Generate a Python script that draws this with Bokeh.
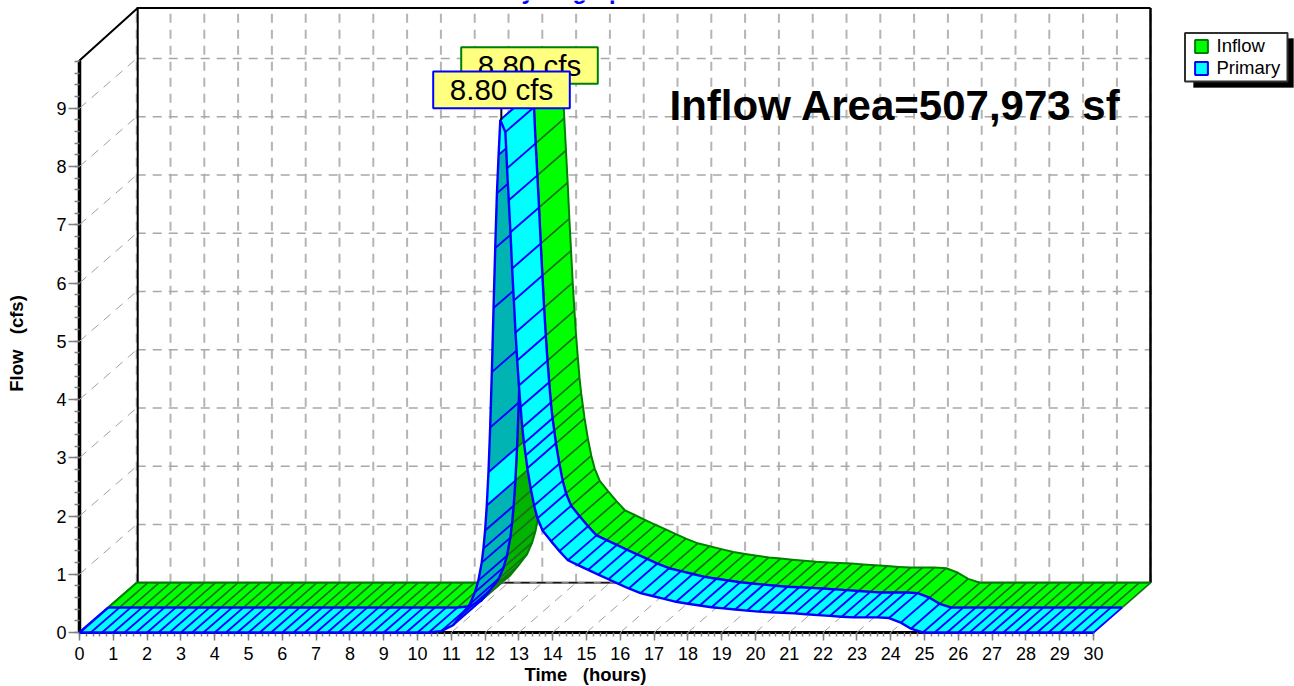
import numpy as np
from bokeh.embed import file_html
from bokeh.resources import INLINE
from bokeh.plotting import figure
from bokeh.core.properties import value
from bokeh.models import (BoxAnnotation, Label, Legend, LegendItem, LinearAxis, Range1d,
                          SingleIntervalTicker)

time_h = [0, 10.5, 10.75, 11, 11.3, 11.5, 11.6, 11.7, 11.75, 11.8, 11.85, 11.9, 11.95, 12, 12.05,
          12.1, 12.15, 12.2, 12.25, 12.3, 12.35, 12.4, 12.45, 12.6, 12.65, 12.7, 12.75, 12.8,
          12.85, 12.9, 12.95, 13, 13.05, 13.1, 13.15, 13.2, 13.25, 13.3, 13.35, 13.4, 13.45,
          13.5, 13.55, 13.7, 14.1, 14.45, 15.4, 16.5, 17.7, 18.75, 20.05, 21.1, 22.8, 23.9,
          24.3, 24.7, 24.85, 30]
inflow_cfs = [0, 0, 0.03, 0.09, 0.3, 0.43, 0.55, 0.69, 0.78, 0.89, 1.01, 1.2, 1.44, 1.75, 2.18,
              2.75, 3.52, 4.47, 5.57, 6.6, 7.54, 8.2, 8.8, 8.59, 7.97, 7.42, 6.87, 6.25,
              5.7, 5.15, 4.67, 4.24, 3.87, 3.52, 3.25, 3.04, 2.82, 2.65, 2.47, 2.32, 2.18,
              2.06, 1.96, 1.75, 1.46, 1.24, 0.98, 0.69, 0.52, 0.43, 0.36, 0.33, 0.26, 0.26,
              0.17, 0.03, 0, 0]
primary_cfs = list(inflow_cfs)
series_names = ["Inflow", "Primary"]
peak_labels = ["8.80 cfs", "8.80 cfs"]
x_tick_interval = 1
y_tick_interval = 1
lit_rising_spans = [(12.05, 12.10), (12.40, 12.45)]

W, H = 1294, 686
PX_T, PX_F = 33.8, 58.25
LEFT, BOTTOM = 79, 632
DEPTH_T, DEPTH_F = 28.6 / PX_T, 24.9 / PX_F
BACK_T, BACK_F = 2 * DEPTH_T, 2 * DEPTH_F


def tx(px):
    return (px - LEFT) / PX_T


def ty(py):
    return (BOTTOM - py) / PX_F


x_end = tx(1150)
y_top = ty(7.5)

FONT = "Liberation Sans"
p = figure(width=W, height=H, output_backend="svg", toolbar_location=None, tools="",
           x_range=Range1d(tx(0), tx(W)), y_range=Range1d(ty(H), ty(0)),
           x_axis_location=None, y_axis_location=None,
           min_border_left=0, min_border_right=0, min_border_top=0, min_border_bottom=0,
           outline_line_color=None, background_fill_color="white")
p.grid.visible = False

xa = LinearAxis(fixed_location=0, bounds=(0, 30), level="underlay",
                ticker=SingleIntervalTicker(interval=x_tick_interval, num_minor_ticks=5))
ya = LinearAxis(fixed_location=0, bounds=(0, 9.82), level="underlay",
                ticker=SingleIntervalTicker(interval=y_tick_interval, num_minor_ticks=5))
for a in (xa, ya):
    a.axis_line_color = "black"
    a.major_tick_line_color = "#808080"
    a.minor_tick_line_color = "#808080"
    a.major_tick_line_width = 1.5
    a.minor_tick_line_width = 1.5
    a.major_tick_in = 0
    a.minor_tick_in = 0
    a.major_label_text_font = FONT
    a.major_label_text_font_size = "18px"
    a.major_label_text_color = "black"
xa.axis_line_width = 3
ya.axis_line_width = 3.5
xa.major_tick_out, xa.minor_tick_out = 8, 4
ya.major_tick_out, ya.minor_tick_out = 11, 5
xa.major_label_standoff = 6
ya.major_label_standoff = 2
p.add_layout(xa, "below")
p.add_layout(ya, "left")

# walls and floor grid
hours = np.arange(0, 31)
levels = np.arange(1, 10)
p.multi_line([[t + BACK_T] * 2 for t in hours], [[BACK_F, y_top] for _ in hours],
             line_color="#b4b4b4", line_width=2, line_dash="9 7")
p.multi_line([[BACK_T, x_end] for _ in levels], [[k + BACK_F] * 2 for k in levels],
             line_color="#a8a8a8", line_width=1.6, line_dash="9 7")
p.multi_line([[t, t + BACK_T] for t in hours[1:]], [[0, BACK_F] for _ in hours[1:]],
             line_color="#a0a0a0", line_width=1, line_dash="9 7")
p.multi_line([[0, BACK_T] for _ in levels], [[k, k + BACK_F] for k in levels],
             line_color="#a0a0a0", line_width=1, line_dash="9 7")
p.line([BACK_T, x_end], [BACK_F, BACK_F], line_color="#808080", line_width=2.5)
p.line([BACK_T, x_end], [BACK_F, BACK_F], line_color="black", line_width=1, line_dash="9 7")
p.line([0, BACK_T + 0.03, BACK_T + 0.03], [9.82, y_top, BACK_F], line_color="black", line_width=2)
p.line([BACK_T, x_end], [y_top, y_top], line_color="black", line_width=2)
p.line([x_end, x_end], [BACK_F, y_top], line_color="black", line_width=2.5)


def hatch_times(ts, fs):
    a, b = ts[1], ts[-2] + 0.65
    cands = set(np.round(np.arange(0, a, 1 / 3), 4)) | set(np.round(np.arange(a, b, 0.05), 4))
    cands |= set(np.round(np.arange(30, b, -1 / 3), 4))
    cands = sorted(cands)
    peak = ts[int(np.argmax(fs))]
    keep = [cands[0]]
    for t in cands[1:]:
        dx = (t - keep[-1]) * PX_T
        dy = (np.interp(t, ts, fs) - np.interp(keep[-1], ts, fs)) * PX_F
        if np.hypot(dx, dy) >= 11 or t == peak or t == 30:
            keep.append(t)
    return np.array(keep), peak


def ribbon(ts, fs, d0, lit, dark, edge, hatch, edge_w, hatch_w):
    t, peak = hatch_times(ts, fs)
    f = np.interp(t, ts, fs)
    x0, y0 = t + d0 * DEPTH_T, f + d0 * DEPTH_F
    x1, y1 = x0 + DEPTH_T, y0 + DEPTH_F
    quads = {"rl": ([], []), "rd": ([], []), "f": ([], [])}
    ipk = int(np.where(t == peak)[0][0])
    for i in range(len(t) - 1):
        qx = [x0[i], x0[i + 1], x1[i + 1], x1[i]]
        qy = [y0[i], y0[i + 1], y1[i + 1], y1[i]]
        slope = (f[i + 1] - f[i]) * PX_F / ((t[i + 1] - t[i]) * PX_T)
        mid = (t[i] + t[i + 1]) / 2
        is_lit = any(a < mid < b for a, b in lit_rising_spans)
        if i >= ipk:
            key = "f"
        elif slope > 24.9 / 28.6 and not is_lit:
            key = "rd"
        else:
            key = "rl"
        quads[key][0].append(qx)
        quads[key][1].append(qy)
    p.patches(quads["rl"][0], quads["rl"][1], fill_color=lit, line_color=lit, line_width=0.5)
    p.patches(quads["rd"][0], quads["rd"][1], fill_color=dark, line_color=dark, line_width=0.5)
    idx = range(ipk + 1)
    p.multi_line([[x0[i], x1[i]] for i in idx], [[y0[i], y1[i]] for i in idx],
                 line_color=hatch, line_width=hatch_w)
    p.multi_line([list(x0[:ipk + 1]), list(x1[:ipk + 1])], [list(y0[:ipk + 1]), list(y1[:ipk + 1])],
                 line_color=edge, line_width=edge_w, line_join="round")
    p.patches(quads["f"][0], quads["f"][1], fill_color=lit, line_color=lit, line_width=0.5)
    idx = range(ipk, len(t))
    p.multi_line([[x0[i], x1[i]] for i in idx], [[y0[i], y1[i]] for i in idx],
                 line_color=hatch, line_width=hatch_w)
    p.multi_line([list(x0[ipk:]), list(x1[ipk:])], [list(y0[ipk:]), list(y1[ipk:])],
                 line_color=edge, line_width=edge_w, line_join="round")
    p.line([x0[0], x1[0]], [y0[0], y1[0]], line_color=edge, line_width=edge_w)
    return peak


pk_in = ribbon(time_h, inflow_cfs, 1, "#00ff00", "#00b400", "#008000", "#1c6e1c", 2, 1.7)
pk_pr = ribbon(time_h, primary_cfs, 0, "#00ffff", "#00b4b4", "#0000ff", "#0000ff", 2.4, 1.9)

# peak stem and callouts
p.line([pk_pr + 0.03, pk_pr + 0.03], [max(primary_cfs), ty(108)], line_color="black", line_width=2)
boxes = [(460.7, 597.3, 46.7, 83.3, "#008000", peak_labels[0]),
         (432.7, 569.3, 71, 107.7, "#0000ff", peak_labels[1])]
for l, r, t_, b, col, txt in boxes:
    p.quad(left=[tx(l)], right=[tx(r)], top=[ty(t_)], bottom=[ty(b)], fill_color="#ffff80",
           line_color=col, line_width=2)
    p.text([tx((l + r) / 2)], [ty((t_ + b) / 2)], text=[txt], text_align="center",
           text_baseline="middle", text_font=value(FONT), text_font_size="29.5px", text_color="black")

for x, py, txt, size, color, align, angle in [
        (669, 105, "Inflow Area=507,973 sf", "42px", "black", "left", 0),
        (504, -10, "Hydrograph", "23.5px", "#0000ff", "left", 0),
        (585, 674, "Time\u00a0\u00a0\u00a0(hours)", "18.5px", "black", "center", 0),
        (16, 343, "Flow\u00a0\u00a0\u00a0(cfs)", "18.5px", "black", "center", np.pi / 2)]:
    p.add_layout(Label(x=x, y=H - py, x_units="screen", y_units="screen", text=txt, angle=angle,
                       text_align=align, text_baseline="alphabetic", text_font=FONT,
                       text_font_style="bold", text_font_size=size, text_color=color))

# legend: drop shadow, box, entries
p.add_layout(BoxAnnotation(left=tx(1193), right=tx(1293), top=ty(38), bottom=ty(87), fill_color="black",
                           fill_alpha=1, line_color="black", level="annotation"))
p.add_layout(BoxAnnotation(left=tx(1184.5), right=tx(1287), top=ty(32.5), bottom=ty(81), fill_color="white",
                           fill_alpha=1, line_color="#303030", line_width=2, line_alpha=1, level="annotation"))
sw_in = p.quad(left=[-100], right=[-99], top=[-99], bottom=[-100], fill_color="#00ff00",
               line_color="#008000", line_width=2)
sw_pr = p.quad(left=[-100], right=[-99], top=[-99], bottom=[-100], fill_color="#00ffff",
               line_color="#0000ff", line_width=2)
legend = Legend(items=[LegendItem(label=series_names[0], renderers=[sw_in]),
                       LegendItem(label=series_names[1], renderers=[sw_pr])],
                location=(1192.5, H - 79), orientation="vertical", margin=0, padding=6, spacing=0,
                glyph_width=16, glyph_height=16, label_height=20, label_standoff=8,
                label_text_font=FONT, label_text_font_size="18.5px", label_text_color="black",
                border_line_color=None, background_fill_alpha=0, click_policy="none")
p.add_layout(legend)

open("out.html", "w").write(file_html(p, INLINE))
